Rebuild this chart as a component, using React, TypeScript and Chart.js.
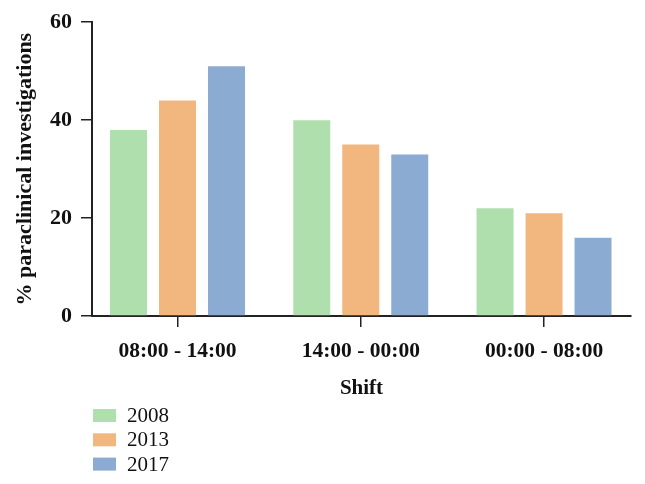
import React, { useEffect, useRef } from 'react';
import { Chart, registerables } from 'chart.js';

Chart.register(...registerables);

const categories = ['08:00 - 14:00', '14:00 - 00:00', '00:00 - 08:00'];
const years = ['2008', '2013', '2017'];
const values2008 = [38, 40, 22];
const values2013 = [44, 35, 21];
const values2017 = [51, 33, 16];
const yTicks = [0, 20, 40, 60];
const colors = ['#aedfad', '#f1b77e', '#8cabd3'];

const FONT = '"Liberation Serif", "Times New Roman", serif';

const stackedLegend = {
  id: 'stackedLegend',
  afterDraw(chart: any) {
    const { ctx } = chart;
    ctx.save();
    chart.data.datasets.forEach((ds: any, i: number) => {
      const y = 415.5 + i * 24.3;
      ctx.fillStyle = ds.backgroundColor;
      ctx.fillRect(93, y - 6.5, 23, 13);
      ctx.fillStyle = '#111';
      ctx.font = `21px ${FONT}`;
      ctx.textBaseline = 'middle';
      ctx.textAlign = 'left';
      ctx.fillText(ds.label, 127, y + 1);
    });
    ctx.restore();
  },
};

export default function App() {
  const ref = useRef<HTMLCanvasElement | null>(null);

  useEffect(() => {
    document.body.style.margin = '0';
    if (!ref.current) return;
    Chart.defaults.font.family = FONT;
    Chart.defaults.color = '#111';
    const series = [values2008, values2013, values2017];
    const chart = new Chart(ref.current, {
      type: 'bar',
      data: {
        labels: categories,
        datasets: years.map((y, i) => ({
          label: y,
          data: series[i],
          backgroundColor: colors[i],
          borderWidth: 0,
          categoryPercentage: 0.802,
          barPercentage: 0.755,
        })),
      },
      options: {
        responsive: false,
        animation: false,
        layout: { padding: { top: 21, left: 0, right: 14, bottom: 0 } },
        plugins: {
          legend: { display: false },
          tooltip: { enabled: false },
        },
        scales: {
          x: {
            offset: true,
            afterBuildTicks: (scale: any) => {
              // category band slightly shifted left of the y axis, as in the reference
              scale._startValue = -0.4665;
              scale._valueRange = 2.941;
            },
            grid: {
              display: true,
              offset: false,
              drawOnChartArea: false,
              drawTicks: true,
              tickLength: 11,
              color: '#222',
              lineWidth: 1.5,
            },
            border: { display: true, color: '#222', width: 2 },
            ticks: {
              font: { size: 21.5, weight: 'bold' },
              color: '#111',
              padding: 12,
              maxRotation: 0,
            },
            title: {
              display: true,
              text: 'Shift',
              font: { size: 21, weight: 'bold' },
              color: '#111',
              padding: { top: 0, bottom: 83 },
            },
            afterFit: (scale: any) => {
              scale.height = 168;
            },
          },
          y: {
            min: 0,
            max: 60,
            afterBuildTicks: (scale: any) => {
              scale.ticks = yTicks.map((v) => ({ value: v }));
            },
            grid: {
              display: true,
              drawOnChartArea: false,
              drawTicks: true,
              tickLength: 11,
              color: '#222',
              lineWidth: 1.5,
            },
            border: { display: true, color: '#222', width: 2 },
            ticks: {
              font: { size: 22, weight: 'bold' },
              color: '#111',
              padding: 9,
            },
            title: {
              display: true,
              text: '% paraclinical investigations',
              font: { size: 22, weight: 'bold' },
              color: '#111',
              padding: { top: 12, bottom: 0 },
            },
            afterFit: (scale: any) => {
              scale.width = 92;
            },
          },
        },
      },
      plugins: [stackedLegend],
    });
    return () => chart.destroy();
  }, []);

  return (
    <div style={{ width: 645, height: 484 }}>
      <canvas ref={ref} width={645} height={484} />
    </div>
  );
}
